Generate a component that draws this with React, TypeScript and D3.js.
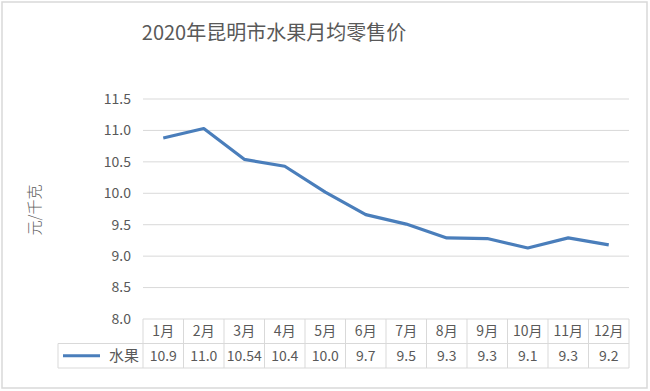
import React from 'react';
import * as d3 from 'd3';

const months = ['1月', '2月', '3月', '4月', '5月', '6月', '7月', '8月', '9月', '10月', '11月', '12月'];
const fruitPrices = [10.88, 11.03, 10.54, 10.43, 10.02, 9.66, 9.51, 9.29, 9.28, 9.13, 9.29, 9.18];
const tableLabels = ['10.9', '11.0', '10.54', '10.4', '10.0', '9.7', '9.5', '9.3', '9.3', '9.1', '9.3', '9.2'];
const yTicks = [8.0, 8.5, 9.0, 9.5, 10.0, 10.5, 11.0, 11.5];
const seriesName = '水果';
const chartTitle = '2020年昆明市水果月均零售价';
const yLabel = '元/千克';

const W = 650;
const H = 391;
const font = '"Noto Sans CJK SC", "Noto Sans", sans-serif';
const textColor = '#595959';
const gridColor = '#d9d9d9';
const lineColor = '#4a7ebb';

const App = () => {
    const left = 143;
    const right = 629;
    const top = 99;
    const bottom = 319;
    const rowH = 24.5;
    const legendLeft = 58;

    const x = d3.scaleBand<string>().domain(months).range([left, right]);
    const y = d3.scaleLinear().domain([8, 11.5]).range([bottom, top]);

    const line = d3
        .line<number>()
        .x((d, i) => (x(months[i]) as number) + x.bandwidth() / 2)
        .y(d => y(d));

    return (
        <svg width={W} height={H} style={{ position: 'absolute', left: 0, top: 0, background: '#fff' }}>
            <rect x={2} y={2} width={645} height={386} fill="#fff" stroke={gridColor} strokeWidth={1.5} />
            <text x={274} y={40} textAnchor="middle" fontFamily={font} fontSize={20} fill={textColor}>
                {chartTitle}
            </text>
            <text
                transform={`translate(40,210) rotate(-90)`}
                textAnchor="middle"
                fontFamily={font}
                fontSize={15}
                fontWeight={300}
                fill={textColor}
            >
                {yLabel}
            </text>

            {/* gridlines + y tick labels */}
            {yTicks.map(t => (
                <g key={t}>
                    {t > 8 && <line x1={left} x2={right} y1={y(t)} y2={y(t)} stroke={gridColor} strokeWidth={1} />}
                    <text
                        x={131}
                        y={y(t)}
                        dy="0.35em"
                        textAnchor="end"
                        fontFamily={font}
                        fontSize={14}
                        fill={textColor}
                    >
                        {t.toFixed(1)}
                    </text>
                </g>
            ))}

            <path d={line(fruitPrices) || ''} fill="none" stroke={lineColor} strokeWidth={3.2} strokeLinejoin="round" />

            {/* data table */}
            <g stroke={gridColor} strokeWidth={1} fill="none">
                <line x1={left} x2={right} y1={bottom} y2={bottom} />
                <line x1={legendLeft} x2={right} y1={bottom + rowH} y2={bottom + rowH} />
                <line x1={legendLeft} x2={right} y1={bottom + rowH * 2} y2={bottom + rowH * 2} />
                <line x1={legendLeft} x2={legendLeft} y1={bottom + rowH} y2={bottom + rowH * 2} />
                {months.map(m => (
                    <line key={m} x1={x(m)} x2={x(m)} y1={bottom} y2={bottom + rowH * 2} />
                ))}
                <line x1={right} x2={right} y1={bottom} y2={bottom + rowH * 2} />
            </g>
            {months.map((m, i) => (
                <g key={m} fontFamily={font} fontSize={14} fill={textColor} textAnchor="middle">
                    <text x={(x(m) as number) + x.bandwidth() / 2} y={bottom + rowH / 2} dy="0.35em">
                        {m}
                    </text>
                    <text x={(x(m) as number) + x.bandwidth() / 2} y={bottom + rowH * 1.5} dy="0.35em">
                        {tableLabels[i]}
                    </text>
                </g>
            ))}
            <line
                x1={legendLeft + 5}
                x2={legendLeft + 42}
                y1={bottom + rowH * 1.5}
                y2={bottom + rowH * 1.5}
                stroke={lineColor}
                strokeWidth={3.2}
            />
            <text
                x={left - 4}
                y={bottom + rowH * 1.5}
                dy="0.35em"
                textAnchor="end"
                fontFamily={font}
                fontSize={15}
                fill={textColor}
            >
                {seriesName}
            </text>
        </svg>
    );
};

export default App;
